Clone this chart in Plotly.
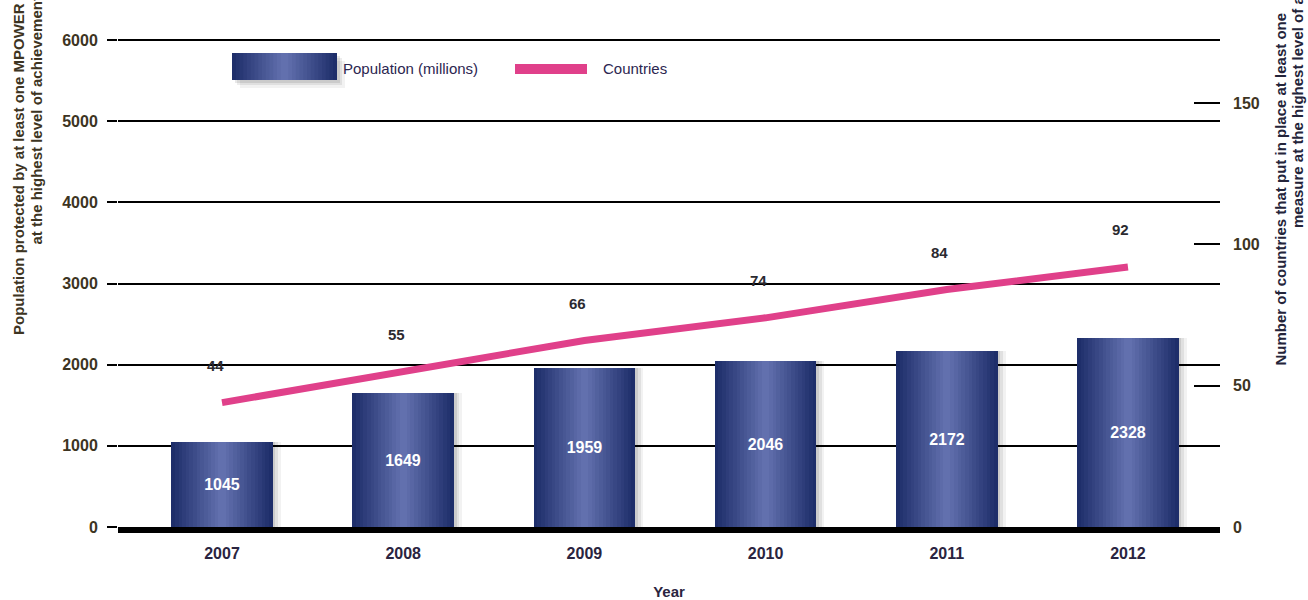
import plotly.graph_objects as go

# ---- data -------------------------------------------------------------
years = ["2007", "2008", "2009", "2010", "2011", "2012"]
population = [1045, 1649, 1959, 2046, 2172, 2328]   # millions protected
countries = [44, 55, 66, 74, 84, 92]                 # number of countries

left_ticks = [0, 1000, 2000, 3000, 4000, 5000, 6000]
right_ticks = [0, 50, 100, 150]

# ---- layout geometry (pixels) ----------------------------------------
W, H = 1308, 600
ML, MR, MT, MB = 118, 88, 36, 73
PW, PH = W - ML - MR, H - MT - MB
Y_TOP = 6000 * PH / 487          # keeps 6000 at 40 px from the top
Y2_TOP = 172.3 * PH / 487


def px_x(px):
    return (px - ML) / PW


def px_y(py):
    return (H - MB - py) / PH


FONT = "Liberation Sans, Arial, sans-serif"
DARK = (30, 46, 106)
LIGHT = (98, 112, 174)


def mix(t):
    r, g, b = (round(d + (l - d) * t) for d, l in zip(DARK, LIGHT))
    return f"rgb({r},{g},{b})"


BAR_W = 0.56
fig = go.Figure()

# soft drop shadow to the right of each bar
for dx, a in [(0.045, 0.05), (0.03, 0.07), (0.015, 0.09)]:
    fig.add_trace(go.Bar(
        x=years, y=population, width=BAR_W, offset=-BAR_W / 2 + dx,
        marker=dict(color=f"rgba(0,0,0,{a})", line=dict(width=0)),
        hoverinfo="skip", showlegend=False,
    ))

# horizontal gradient: dark edges, lighter centre (stacked narrower layers)
N = 14
for k in range(N):
    w = BAR_W * (1 - k / N)
    fig.add_trace(go.Bar(
        x=years, y=population, width=w,
        marker=dict(color=mix(k / (N - 1)), line=dict(width=0)),
        hoverinfo="skip", showlegend=False,
    ))

# value labels inside the bars
fig.add_trace(go.Bar(
    x=years, y=population, width=BAR_W,
    marker=dict(color="rgba(0,0,0,0)", line=dict(width=0)),
    text=[str(v) for v in population], textposition="inside",
    insidetextanchor="middle", constraintext="none",
    textfont=dict(family=FONT, size=16, color="white", weight="bold"),
    showlegend=False, name="Population (millions)",
))

# countries line on the secondary axis
fig.add_trace(go.Scatter(
    x=years, y=countries, yaxis="y2", mode="lines",
    line=dict(color="#e0408a", width=7), showlegend=False, name="Countries",
))

annotations = []
for i, c in enumerate(countries):
    annotations.append(dict(
        x=i, y=c, xref="x", yref="y2", text=str(c), showarrow=False,
        yshift=37, xshift=-7,
        font=dict(family=FONT, size=15, color="#2b2a30", weight="bold"),
    ))

# rotated axis titles, two lines each
TITLE_FONT = dict(family=FONT, size=15, weight="bold")
for txt, cx, by, col in [
    ("Population protected by at least one MPOWER measure", 18, 337, "#3d3422"),
    ("at the highest level of achievement (millions)", 36, 247, "#3d3422"),
    ("Number of countries that put in place at least one", 1280, 368, "#24243a"),
    ("measure at the highest level of achievement", 1298, 230, "#24243a"),
]:
    annotations.append(dict(
        x=px_x(cx), y=px_y(by), xref="paper", yref="paper", text=txt,
        textangle=-90, showarrow=False, xanchor="center", yanchor="bottom",
        font=dict(color=col, **TITLE_FONT),
    ))

# legend drawn by hand: gradient swatch + pink line
shapes = []
lx0, lx1, ly0, ly1 = 232, 337, 53, 80
for dx, dy, a in [(8, 8, 0.05), (5, 5, 0.07), (3, 3, 0.09)]:
    shapes.append(dict(
        type="rect", xref="paper", yref="paper",
        x0=px_x(lx0 + dx), x1=px_x(lx1 + dx), y0=px_y(ly1 + dy), y1=px_y(ly0 + dy),
        fillcolor=f"rgba(0,0,0,{a})", line=dict(width=0), layer="above",
    ))
cxl, half = (lx0 + lx1) / 2, (lx1 - lx0) / 2
for k in range(N):
    hw = half * (1 - k / N)
    shapes.append(dict(
        type="rect", xref="paper", yref="paper",
        x0=px_x(cxl - hw), x1=px_x(cxl + hw), y0=px_y(ly1), y1=px_y(ly0),
        fillcolor=mix(k / (N - 1)), line=dict(width=0), layer="above",
    ))
shapes.append(dict(
    type="rect", xref="paper", yref="paper",
    x0=px_x(515), x1=px_x(587), y0=px_y(74), y1=px_y(64),
    fillcolor="#e0408a", line=dict(width=0), layer="above",
))
for txt, x0 in [("Population (millions)", 341), ("Countries", 601)]:
    annotations.append(dict(
        x=px_x(x0), y=px_y(68), xref="paper", yref="paper", text=txt,
        showarrow=False, xanchor="left", yanchor="middle",
        font=dict(family=FONT, size=15, color="#2c2650"),
    ))

fig.update_layout(
    width=W, height=H,
    margin=dict(l=ML, r=MR, t=MT, b=MB, pad=0, autoexpand=False),
    paper_bgcolor="white", plot_bgcolor="white",
    barmode="overlay", bargap=0,
    showlegend=False,
    annotations=annotations, shapes=shapes,
    xaxis=dict(
        type="category", range=[-0.574, 5.508], automargin=False,
        showgrid=False, zeroline=False,
        showline=True, linewidth=6, linecolor="black",
        ticks="", ticklabelstandoff=7,
        tickfont=dict(family=FONT, size=16, color="#2a2440", weight="bold"),
        title=dict(text="Year", standoff=27,
                   font=dict(family=FONT, size=15, color="#2a2440", weight="bold")),
    ),
    yaxis=dict(
        range=[0, Y_TOP], tickvals=left_ticks, automargin=False,
        showgrid=True, gridcolor="black", gridwidth=2, zeroline=False,
        ticks="outside", ticklen=10, tickwidth=2, tickcolor="black",
        ticklabelstandoff=6,
        tickfont=dict(family=FONT, size=16, color="#3d3422", weight="bold"),
    ),
    yaxis2=dict(
        overlaying="y", side="right", range=[0, Y2_TOP], tickvals=right_ticks,
        automargin=False,
        showgrid=False, zeroline=False, showline=False,
        ticks="inside", ticklen=26, tickwidth=2, tickcolor="black",
        ticklabelstandoff=12,
        tickfont=dict(family=FONT, size=16, color="#3d3422", weight="bold"),
    ),
)

fig.write_html("out.html")
